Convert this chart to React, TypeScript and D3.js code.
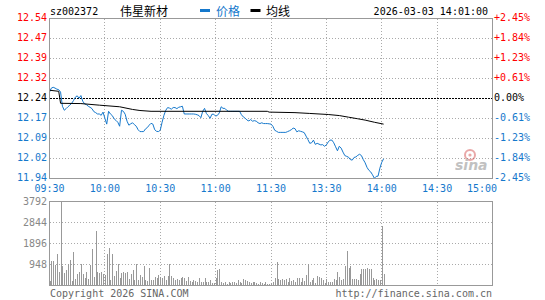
import React from "react";
import * as d3 from "d3";

// 伟星新材 sz002372 分时, 2026-03-03 14:01
const prevClose = 12.24;
const pctRange = 0.0245;

const priceTicks = ["12.54", "12.47", "12.39", "12.32", "12.24", "12.17", "12.09", "12.02", "11.94"];
const pctTicks = ["+2.45%", "+1.84%", "+1.23%", "+0.61%", "0.00%", "-0.61%", "-1.23%", "-1.84%", "-2.45%"];
const timeTicks = ["09:30", "10:00", "10:30", "11:00", "11:30", "13:30", "14:00", "14:30", "15:00"];
const volTicks = [3792, 2844, 1896, 948];

// one value per minute from 09:30
const prices = [
  12.264, 12.279, 12.282, 12.279, 12.275, 12.273, 12.264, 12.211, 12.196, 12.202,
  12.209, 12.215, 12.222, 12.232, 12.245, 12.250, 12.241, 12.251, 12.230, 12.220,
  12.217, 12.211, 12.207, 12.202, 12.191, 12.187, 12.182, 12.182, 12.177, 12.189,
  12.166, 12.144, 12.192, 12.182, 12.176, 12.164, 12.158, 12.151, 12.136, 12.196,
  12.192, 12.181, 12.155, 12.140, 12.145, 12.149, 12.142, 12.136, 12.123, 12.116,
  12.116, 12.116, 12.126, 12.131, 12.140, 12.147, 12.144, 12.123, 12.117, 12.116,
  12.121, 12.151, 12.177, 12.196, 12.206, 12.204, 12.200, 12.206, 12.206, 12.202,
  12.207, 12.209, 12.211, 12.182, 12.182, 12.182, 12.182, 12.182, 12.182, 12.181,
  12.179, 12.176, 12.168, 12.192, 12.203, 12.184, 12.176, 12.166, 12.181, 12.181,
  12.174, 12.177, 12.186, 12.209, 12.203, 12.203, 12.196, 12.192, 12.192, 12.192,
  12.192, 12.192, 12.192, 12.192, 12.179, 12.171, 12.166, 12.159, 12.156, 12.161,
  12.155, 12.157, 12.155, 12.149, 12.146, 12.149, 12.146, 12.146, 12.146, 12.145,
  12.144, 12.136, 12.121, 12.117, 12.113, 12.113, 12.113, 12.113, 12.113, 12.116,
  12.119, 12.123, 12.129, 12.127, 12.115, 12.119, 12.117, 12.115, 12.112, 12.099,
  12.086, 12.072, 12.074, 12.084, 12.068, 12.072, 12.069, 12.066, 12.067, 12.061,
  12.066, 12.077, 12.084, 12.084, 12.074, 12.059, 12.044, 12.061, 12.054, 12.039,
  12.026, 12.023, 12.020, 12.011, 12.009, 12.019, 12.021, 12.027, 12.031, 12.026,
  12.011, 11.999, 11.982, 11.971, 11.965, 11.954, 11.941, 11.948, 11.949, 11.979,
  12.001, 12.014,
];

const volumes = [
  181, 1084, 1084, 933, 1400, 602, 3792, 858, 557, 707,
  978, 1159, 181, 1505, 271, 497, 602, 978, 527, 346,
  587, 301, 903, 1656, 376, 2438, 587, 557, 587, 497,
  452, 1400, 1701, 226, 1400, 436, 677, 978, 346, 557,
  587, 572, 632, 301, 497, 707, 226, 978, 256, 452,
  406, 858, 226, 196, 783, 226, 226, 406, 331, 452,
  376, 346, 420, 270, 420, 960, 420, 360, 270, 315,
  270, 345, 390, 345, 210, 390, 210, 165, 270, 210,
  165, 345, 165, 165, 360, 165, 165, 240, 120, 120,
  360, 720, 740, 160, 120, 160, 90, 140, 120, 180,
  150, 100, 240, 180, 130, 300, 240, 210, 160, 120,
  150, 180, 120, 90, 160, 120, 60, 150, 90, 60,
  120, 180, 360, 1050, 315, 270, 315, 240, 315, 165,
  360, 210, 240, 165, 360, 345, 165, 345, 200, 480,
  960, 165, 240, 360, 120, 420, 390, 360, 240, 120,
  300, 165, 150, 165, 300, 270, 617, 390, 240, 315,
  873, 1550, 810, 873, 315, 315, 315, 270, 510, 737,
  737, 750, 810, 767, 737, 360, 270, 315, 240, 240,
  2680, 510,
];

// 均线 read at these minutes
const avgMinutes = [0, 5, 6, 17, 27, 38, 45, 49, 55, 118, 119, 133, 141, 151, 157, 162, 167, 171, 176, 181];
const avgPrices = [
  12.271, 12.267, 12.222, 12.221, 12.215, 12.209, 12.199, 12.195, 12.192, 12.192,
  12.189, 12.187, 12.184, 12.180, 12.176, 12.170, 12.164, 12.159, 12.151, 12.144,
];

const BLUE = "#1578cc";
const RED = "#ff0000";
const GRID = "#aaaaaa";
const MONO = "'DejaVu Sans Mono', 'Liberation Mono', monospace";
const CJK = "'Noto Sans CJK SC', sans-serif";

export default function App() {
  const left = 49.5;
  const right = 492.5;
  const top = 18.5;
  const bottom = 178.5;
  const vTop = 201.5;
  const vBottom = 285.5;

  const x = d3.scaleLinear().domain([0, 240]).range([left, right]);
  const y = d3
    .scaleLinear()
    .domain([prevClose * (1 - pctRange), prevClose * (1 + pctRange)])
    .range([bottom, top]);
  const vy = d3.scaleLinear().domain([0, volTicks[0]]).range([vBottom, vTop]);

  const priceGrid = d3.range(priceTicks.length).map((k) => top + (k * (bottom - top)) / (priceTicks.length - 1));
  const volGrid = d3.range(volTicks.length + 1).map((k) => vTop + (k * (vBottom - vTop)) / volTicks.length);
  const timeGrid = d3.range(timeTicks.length).map((k) => x(k * 30));

  const priceLine = d3
    .line<number>()
    .x((_, i) => x(i))
    .y((d) => y(d));
  const avgLine = d3
    .line<number>()
    .x((_, i) => x(avgMinutes[i]))
    .y((d) => y(d));

  const tickColor = (k: number, mid: number) => (k < mid ? RED : k === mid ? "#000" : BLUE);

  return (
    <svg
      width={545}
      height={300}
      style={{ position: "absolute", left: 0, top: 0, background: "#fff" }}
      fontFamily={MONO}
      fontSize={10}
    >
      {/* header */}
      <text x={50} y={15}>sz002372</text>
      <text x={120} y={16} fontFamily={CJK} fontSize={12}>伟星新材</text>
      <rect x={200} y={9} width={10} height={3} fill={BLUE} />
      <text x={216} y={16} fontFamily={CJK} fontSize={12} fill={BLUE}>价格</text>
      <rect x={250.5} y={9} width={10} height={3} fill="#000" />
      <text x={266} y={16} fontFamily={CJK} fontSize={12}>均线</text>
      <text x={488} y={15} textAnchor="end">2026-03-03 14:01:00</text>

      {/* price grid */}
      <g shapeRendering="crispEdges">
        {priceGrid.slice(1, -1).map((gy, k) => (
          <line
            key={"h" + k}
            x1={left}
            x2={right}
            y1={gy}
            y2={gy}
            stroke={k + 1 === 4 ? "#000" : GRID}
            strokeDasharray={k + 1 === 4 ? "2,1" : "1,2"}
          />
        ))}
        {timeGrid.slice(1, -1).map((gx, k) => (
          <line key={"v" + k} x1={gx} x2={gx} y1={top} y2={bottom} stroke={GRID} strokeDasharray="1,2" />
        ))}
        {volGrid.slice(1, -1).map((gy, k) => (
          <line key={"vh" + k} x1={left} x2={right} y1={gy} y2={gy} stroke={GRID} strokeDasharray="1,2" />
        ))}
        {timeGrid.slice(1, -1).map((gx, k) => (
          <line key={"vv" + k} x1={gx} x2={gx} y1={vTop} y2={vBottom} stroke={GRID} strokeDasharray="1,2" />
        ))}
      </g>

      {/* sina watermark */}
      <g opacity={0.45}>
        <circle cx={470} cy={155} r={5} fill="none" stroke="#d04040" strokeWidth={2} />
        <circle cx={470} cy={155} r={1.6} fill="#d04040" />
        <text x={455} y={170} fontFamily="'DejaVu Sans', sans-serif" fontSize={14} fontWeight="bold" fontStyle="italic" fill="#777">
          sina
        </text>
      </g>

      {/* volume bars */}
      <g shapeRendering="crispEdges">
        {volumes.map((v, i) => (
          <rect key={i} x={Math.round(x(i))} y={vy(v)} width={1} height={vBottom - vy(v)} fill="#999" />
        ))}
      </g>

      {/* lines */}
      <path d={priceLine(prices) || ""} fill="none" stroke={BLUE} strokeWidth={1} />
      <path d={avgLine(avgPrices) || ""} fill="none" stroke="#000" strokeWidth={1} />

      {/* frames */}
      <g shapeRendering="crispEdges" fill="none" stroke="#999">
        <rect x={left} y={top} width={right - left} height={bottom - top} />
        <rect x={left} y={vTop} width={right - left} height={vBottom - vTop} />
      </g>

      {/* axis labels */}
      {priceTicks.map((t, k) => (
        <text key={"p" + k} x={47} y={priceGrid[k] + 2.5} textAnchor="end" fill={tickColor(k, 4)}>
          {t}
        </text>
      ))}
      {pctTicks.map((t, k) => (
        <text key={"c" + k} x={494} y={priceGrid[k] + 2.5} fill={tickColor(k, 4)}>
          {t}
        </text>
      ))}
      {timeTicks.map((t, k) => (
        <text
          key={"t" + k}
          x={k === timeTicks.length - 1 ? 497 : timeGrid[k]}
          y={192}
          textAnchor={k === timeTicks.length - 1 ? "end" : "middle"}
          fill={BLUE}
        >
          {t}
        </text>
      ))}
      {volTicks.map((t, k) => (
        <text key={"vl" + k} x={47} y={volGrid[k] + 3} textAnchor="end" fill="#888">
          {t}
        </text>
      ))}

      {/* footer */}
      <text x={50} y={297} fill="#666">Copyright 2026 SINA.COM</text>
      <text x={492} y={297} textAnchor="end" fill="#666">http://finance.sina.com.cn</text>
    </svg>
  );
}
